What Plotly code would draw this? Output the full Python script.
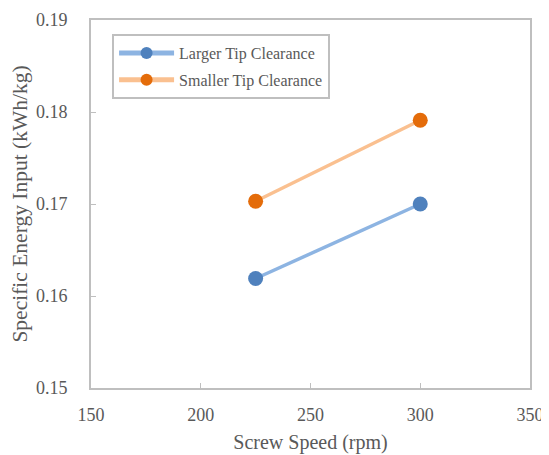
import plotly.graph_objects as go

screw_speed = [225, 300]
larger_tip = [0.1619, 0.1700]
smaller_tip = [0.1703, 0.1791]
series_names = ["Larger Tip Clearance", "Smaller Tip Clearance"]
x_ticks = [150, 200, 250, 300, 350]
y_ticks = [0.15, 0.16, 0.17, 0.18, 0.19]

FONT = "Liberation Serif, Times New Roman, serif"
GRID = "#bfbfbf"
TXT = "#595959"

fig = go.Figure()
fig.add_trace(go.Scatter(
    x=screw_speed, y=larger_tip, name=series_names[0], mode="lines+markers",
    line=dict(color="#8db4e2", width=3.5),
    marker=dict(color="#4f81bd", size=15),
    legendgroup="a",
))
fig.add_trace(go.Scatter(
    x=screw_speed, y=smaller_tip, name=series_names[1], mode="lines+markers",
    line=dict(color="#fac090", width=3.5),
    marker=dict(color="#e46c0a", size=15),
    legendgroup="b",
))

axis_common = dict(
    showline=True, linecolor=GRID, linewidth=2, mirror=True,
    ticks="inside", ticklen=5, tickwidth=1, tickcolor=GRID,
    showgrid=False, zeroline=False, automargin=False,
    ticklabeloverflow="allow",
    tickfont=dict(family=FONT, size=18, color=TXT),
)
fig.update_xaxes(
    range=[150, 350], tickvals=x_ticks, ticktext=[str(v) for v in x_ticks],
    ticklabelstandoff=9,
    title=dict(text="Screw Speed (rpm)", font=dict(family=FONT, size=20, color=TXT), standoff=11),
    **axis_common,
)
fig.update_yaxes(
    range=[0.15, 0.19], tickvals=y_ticks, ticktext=[f"{v:.2f}" for v in y_ticks],
    ticklabelstandoff=18,
    title=dict(text="Specific Energy Input (kWh/kg)", font=dict(family=FONT, size=21.5, color=TXT), standoff=2),
    **axis_common,
)
# the page body adds an 8px margin, so the figure is offset by 8px
fig.update_layout(
    width=541, height=447,
    margin=dict(l=83, r=19, t=12, b=67, autoexpand=False),
    paper_bgcolor="white", plot_bgcolor="white",
    showlegend=True,
    legend=dict(
        x=0.048, y=0.962, xanchor="left", yanchor="top",
        bordercolor=GRID, borderwidth=2, bgcolor="white",
        font=dict(family=FONT, size=16, color=TXT),
        traceorder="grouped", tracegroupgap=3,
        itemsizing="constant", itemwidth=55,
    ),
)
fig.write_html("out.html")
